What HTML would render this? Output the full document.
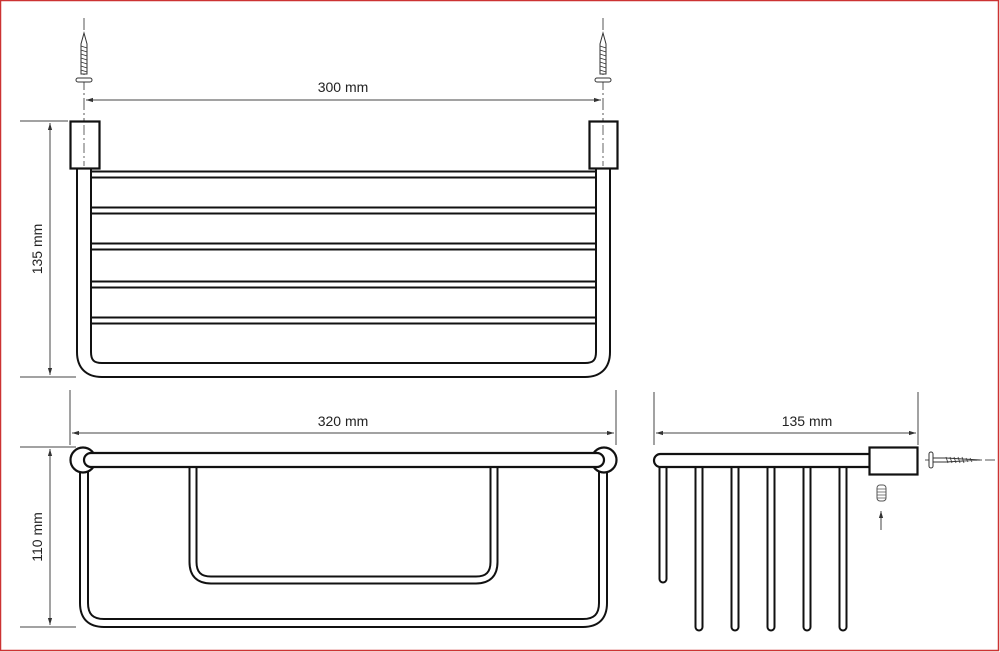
<!DOCTYPE html>
<html><head><style>
html,body{margin:0;padding:0;background:#fff}
svg{display:block}
text{font-family:"Liberation Sans",sans-serif;font-size:14px;fill:#222}
</style></head><body>
<svg width="1000" height="652" viewBox="0 0 1000 652" xmlns="http://www.w3.org/2000/svg">
<defs>
<marker id="a" viewBox="0 0 10 10" refX="10" refY="5" markerWidth="7" markerHeight="7" orient="auto-start-reverse"><path d="M0,2 L10,5 L0,8z" fill="#333"/></marker>
<g id="screwV">
<path d="M0,33 L-3,44 L-3,74 L3,74 L3,44 Z" fill="#fff" stroke="#333" stroke-width="1"/>
<path d="M-3,46 L3,48 M-3,50 L3,52 M-3,54 L3,56 M-3,58 L3,60 M-3,62 L3,64 M-3,66 L3,68 M-3,70 L3,72" stroke="#333" stroke-width="0.8"/>
<rect x="-8" y="78" width="16" height="4" rx="2" fill="#fff" stroke="#333"/>
</g>
</defs>
<rect x="0.5" y="0.5" width="998" height="650" fill="none" stroke="#c33" stroke-width="1.5"/>
<g stroke="#555" stroke-width="1" stroke-dasharray="12,3,2,3" fill="none">
<line x1="84" y1="18" x2="84" y2="170"/><line x1="603" y1="18" x2="603" y2="170"/>
<line x1="925" y1="460" x2="995" y2="460"/>
</g>
<use href="#screwV" x="84"/><use href="#screwV" x="603"/>
<!-- dims -->
<g stroke="#444" stroke-width="1" fill="none">
<line x1="86" y1="100" x2="601" y2="100" marker-start="url(#a)" marker-end="url(#a)"/>
<line x1="20" y1="121" x2="68" y2="121"/><line x1="20" y1="377" x2="76" y2="377"/>
<line x1="50" y1="123" x2="50" y2="375" marker-start="url(#a)" marker-end="url(#a)"/>
<line x1="70" y1="390" x2="70" y2="445"/><line x1="616" y1="390" x2="616" y2="445"/>
<line x1="72" y1="433" x2="614" y2="433" marker-start="url(#a)" marker-end="url(#a)"/>
<line x1="20" y1="447" x2="76" y2="447"/><line x1="20" y1="627" x2="76" y2="627"/>
<line x1="50" y1="449" x2="50" y2="625" marker-start="url(#a)" marker-end="url(#a)"/>
<line x1="654" y1="392" x2="654" y2="445"/><line x1="918" y1="392" x2="918" y2="445"/>
<line x1="656" y1="433" x2="916" y2="433" marker-start="url(#a)" marker-end="url(#a)"/>
<line x1="881" y1="530" x2="881" y2="511" marker-end="url(#a)"/>
</g>
<text x="343" y="92" text-anchor="middle">300 mm</text>
<text x="343" y="426" text-anchor="middle">320 mm</text>
<text x="807" y="426" text-anchor="middle">135 mm</text>
<text transform="translate(42,249) rotate(-90)" text-anchor="middle">135 mm</text>
<text transform="translate(42,537) rotate(-90)" text-anchor="middle">110 mm</text>
<!-- top view -->
<g fill="none" stroke-linejoin="round">
<path d="M84,168 V352 Q84,370 102,370 H585 Q603,370 603,352 V168" stroke="#111" stroke-width="16"/>
<path d="M84,166 V352 Q84,370 102,370 H585 Q603,370 603,352 V166" stroke="#fff" stroke-width="12"/>
<g stroke="#111" stroke-width="8">
<line x1="91" y1="174.5" x2="596" y2="174.5"/><line x1="91" y1="210.5" x2="596" y2="210.5"/><line x1="91" y1="246.5" x2="596" y2="246.5"/><line x1="91" y1="284.5" x2="596" y2="284.5"/><line x1="91" y1="320.5" x2="596" y2="320.5"/>
</g>
<g stroke="#fff" stroke-width="4">
<line x1="92" y1="174.5" x2="595" y2="174.5"/><line x1="92" y1="210.5" x2="595" y2="210.5"/><line x1="92" y1="246.5" x2="595" y2="246.5"/><line x1="92" y1="284.5" x2="595" y2="284.5"/><line x1="92" y1="320.5" x2="595" y2="320.5"/>
</g>
</g>
<rect x="70.5" y="121.5" width="29" height="47" fill="#fff" stroke="#111" stroke-width="2.2"/>
<rect x="589.5" y="121.5" width="28" height="47" fill="#fff" stroke="#111" stroke-width="2.2"/>
<line x1="84" y1="125" x2="84" y2="166" stroke="#666" stroke-dasharray="10,3,2,3"/>
<line x1="603" y1="125" x2="603" y2="166" stroke="#666" stroke-dasharray="10,3,2,3"/>
<!-- front view -->
<g fill="none" stroke-linejoin="round">
<path d="M84,462 V603 Q84,623 104,623 H583 Q603,623 603,603 V462" stroke="#111" stroke-width="10"/>
<path d="M84,462 V603 Q84,623 104,623 H583 Q603,623 603,603 V462" stroke="#fff" stroke-width="6"/>
<path d="M193,462 V562 Q193,580 211,580 H476 Q494,580 494,562 V462" stroke="#111" stroke-width="9"/>
<path d="M193,462 V562 Q193,580 211,580 H476 Q494,580 494,562 V462" stroke="#fff" stroke-width="5"/>
</g>
<circle cx="83" cy="460" r="12.5" fill="#fff" stroke="#111" stroke-width="2.2"/>
<circle cx="604" cy="460" r="12.5" fill="#fff" stroke="#111" stroke-width="2.2"/>
<rect x="84" y="453" width="520" height="14" rx="7" fill="#fff" stroke="#111" stroke-width="2.2"/>
<!-- side view -->
<g fill="none">
<g stroke="#111" stroke-width="9" stroke-linecap="round">
<line x1="663" y1="466" x2="663" y2="579"/>
<line x1="699" y1="466" x2="699" y2="627"/><line x1="735" y1="466" x2="735" y2="627"/><line x1="771" y1="466" x2="771" y2="627"/><line x1="807" y1="466" x2="807" y2="627"/><line x1="843" y1="466" x2="843" y2="627"/>
</g>
<g stroke="#fff" stroke-width="5" stroke-linecap="round">
<line x1="663" y1="465" x2="663" y2="579"/>
<line x1="699" y1="465" x2="699" y2="627"/><line x1="735" y1="465" x2="735" y2="627"/><line x1="771" y1="465" x2="771" y2="627"/><line x1="807" y1="465" x2="807" y2="627"/><line x1="843" y1="465" x2="843" y2="627"/>
</g>
</g>
<rect x="654" y="454" width="222" height="13" rx="6.5" fill="#fff" stroke="#111" stroke-width="2.2"/>
<rect x="869.5" y="447.5" width="48" height="27" fill="#fff" stroke="#111" stroke-width="2.2"/>
<rect x="929" y="452" width="4" height="16" rx="2" fill="#fff" stroke="#333"/>
<path d="M933,458 H946 L980,460 L946,462 H933Z" fill="#fff" stroke="#333"/>
<path d="M946,457 L948,463 M950,457 L952,463 M954,457 L956,463 M958,457 L960,463 M962,457 L964,463 M966,458 L968,462 M970,458 L972,462" stroke="#333" stroke-width="0.8"/>
<rect x="877" y="485" width="9" height="16" rx="3" fill="#fff" stroke="#555"/>
<path d="M877,489 H886 M877,492 H886 M877,495 H886 M877,498 H886" stroke="#555" stroke-width="0.8"/>
</svg>
</body></html>
